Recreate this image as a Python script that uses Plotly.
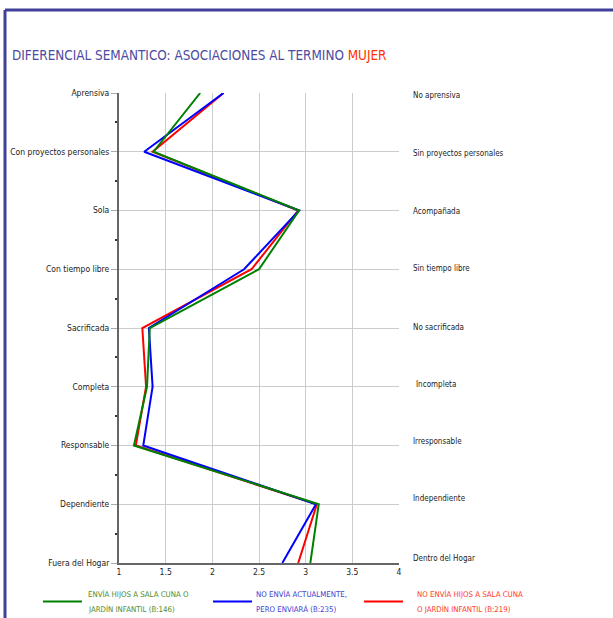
import plotly.graph_objects as go

left_labels = ["Aprensiva", "Con proyectos personales", "Sola", "Con tiempo libre",
               "Sacrificada", "Completa", "Responsable", "Dependiente", "Fuera del Hogar"]
right_labels = ["No aprensiva", "Sin proyectos personales", "Acompañada", "Sin tiempo libre",
                "No sacrificada", "Incompleta", "Irresponsable", "Independiente", "Dentro del Hogar"]

green_vals = [1.87, 1.37, 2.93, 2.50, 1.33, 1.30, 1.16, 3.14, 3.05]
blue_vals = [2.12, 1.27, 2.93, 2.34, 1.32, 1.36, 1.26, 3.11, 2.75]
red_vals = [2.12, 1.36, 2.92, 2.42, 1.25, 1.29, 1.18, 3.12, 2.92]

series_names = ["ENVÍA HIJOS A SALA CUNA O<br>JARDÍN INFANTIL (B:146)",
                "NO ENVÍA ACTUALMENTE,<br>PERO ENVIARÁ (B:235)",
                "NO ENVÍA HIJOS A SALA CUNA<br>O JARDÍN INFANTIL (B:219)"]

x_ticks = [1, 1.5, 2, 2.5, 3, 3.5, 4]
x_ticklabels = ["1", "1.5", "2", "2.5", "3", "3.5", "4"]

FONT = "DejaVu Sans Condensed, Liberation Sans Narrow, sans-serif"
idx = list(range(len(left_labels)))

fig = go.Figure()
# draw order: red, blue, green
fig.add_trace(go.Scatter(x=red_vals, y=idx, mode="lines", line=dict(color="#ff0000", width=2),
                         name=series_names[2], showlegend=False, cliponaxis=False))
fig.add_trace(go.Scatter(x=blue_vals, y=idx, mode="lines", line=dict(color="#0000ff", width=2),
                         name=series_names[1], showlegend=False, cliponaxis=False))
fig.add_trace(go.Scatter(x=green_vals, y=idx, mode="lines", line=dict(color="#008000", width=2),
                         name=series_names[0], showlegend=False, cliponaxis=False))

right_shift = [-2, -1.5, -1, 1, 1, 2, 4, 6, 5]
annotations = []
for i, lab in enumerate(right_labels):
    annotations.append(dict(x=1, xref="paper", y=i, yref="y", text=lab, showarrow=False,
                            xanchor="left", xshift=12 + (3 if lab == "Incompleta" else 0),
                            yshift=right_shift[i],
                            font=dict(family=FONT, size=8, color="#222222")))

legend_colors = ["#008000", "#0000ff", "#ff0000"]
legend_text_colors = ["#4f8a1f", "#4040d0", "#ff3b1f"]
legend_line_x = [43, 213, 364]
legend_text_x = [86, 254, 415]
shapes = [
    # frame
    dict(type="line", xref="paper", yref="paper", x0=-114 / 280, x1=494 / 280,
         y0=1 + 83 / 470, y1=1 + 83 / 470, line=dict(color="#40409a", width=3)),
    dict(type="line", xref="paper", yref="paper", x0=-114 / 280, x1=-114 / 280,
         y0=1 + 83 / 470, y1=-60 / 470, line=dict(color="#40409a", width=3)),
]
for k in range(3):
    x0 = (legend_line_x[k] - 119) / 280
    x1 = (legend_line_x[k] + 39 - 119) / 280
    yp = (563 - 601.5) / 470
    shapes.append(dict(type="line", xref="paper", yref="paper", x0=x0, x1=x1, y0=yp, y1=yp,
                       line=dict(color=legend_colors[k], width=2)))
    for j, part in enumerate(series_names[k].split("<br>")):
        annotations.append(dict(x=(legend_text_x[k] - 119) / 280, xref="paper",
                                y=(563 - (593.5 + 15 * j)) / 470, yref="paper", text=part,
                                showarrow=False, xanchor="left", yanchor="middle", align="left",
                                font=dict(family=FONT, size=7.8, color=legend_text_colors[k])))

fig.update_layout(
    width=613, height=618,
    margin=dict(l=119, r=214, t=93, b=55, autoexpand=False),
    paper_bgcolor="white", plot_bgcolor="white",
    title=dict(text="DIFERENCIAL SEMANTICO: ASOCIACIONES AL TERMINO <span style='color:#ff3300'>MUJER</span>",
               x=12 / 613, xanchor="left", y=1 - 55 / 618, yanchor="middle",
               font=dict(family=FONT, size=13.4, color="#4b4ba0")),
    showlegend=False,
    annotations=annotations,
    shapes=shapes,
    xaxis=dict(range=[1, 4], tickvals=x_ticks, ticktext=x_ticklabels, showgrid=True,
               gridcolor="#cccccc", gridwidth=1, showline=True, linecolor="#666666", linewidth=2,
               ticks="", tickfont=dict(family=FONT, size=8.5, color="#222222"), zeroline=False,
               automargin=False, fixedrange=True),
    yaxis=dict(range=[8, 0], tickvals=idx, ticktext=left_labels, showgrid=True,
               gridcolor="#cccccc", gridwidth=1, showline=True, linecolor="#666666", linewidth=2,
               ticks="outside", ticklen=6, tickcolor="#aaaaaa", tickwidth=1,
               tickfont=dict(family=FONT, size=8.5, color="#222222"), zeroline=False,
               minor=dict(tickvals=[i + 0.5 for i in idx[:-1]], ticks="outside", ticklen=2,
                          tickcolor="#333333", tickwidth=2, showgrid=False),
               automargin=False, fixedrange=True),
)

fig.write_html("out.html", config={"displayModeBar": False},
               post_script="document.body.style.margin='0';")
